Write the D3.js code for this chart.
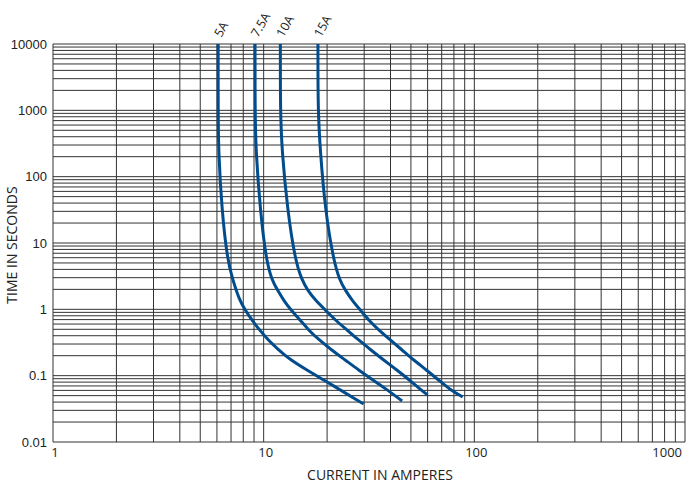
<!DOCTYPE html>
<html>
  <head>
    <meta charset="utf-8"/>
    <style>
      body { margin: 0; background: #fff; }
      text { fill: #222; }
    </style>
  </head>
  <body>
    <script src="https://d3js.org/d3.v7.min.js"></script>
    <script type="text/javascript">
      var width = 695, height = 491;
      var margin = {left: 53, right: 10, top: 44, bottom: 49};

      // fuse ratings, and their curves as [current A, time s]
      var ratings = ["5A", "7.5A", "10A", "15A"];
      var curve5A = [[6.08,10000],[6.08,1000],[6.1,250],[6.33,31],[6.73,5.5],[7.14,2.76],[7.67,1.38],
                     [8.17,0.98],[8.79,0.69],[9.55,0.49],[10.5,0.345],[11.8,0.244],[13.2,0.179],
                     [16.0,0.122],[19.3,0.086],[23.1,0.061],[27.7,0.043],[29.8,0.0375]];
      var curve75A = [[9.1,10000],[9.1,1000],[9.18,250],[9.63,31],[10.28,5.5],[10.94,2.76],[11.63,1.95],
                      [12.42,1.38],[13.46,0.98],[14.91,0.69],[16.3,0.49],[18.35,0.345],[21.0,0.244],
                      [24.4,0.172],[28.2,0.122],[33.0,0.086],[38.7,0.061],[45.4,0.0416]];
      var curve10A = [[12.0,10000],[12.0,1000],[12.2,250],[12.98,31],[14.11,5.5],[15.19,2.76],[16.15,1.95],
                      [17.57,1.38],[19.6,0.98],[21.87,0.69],[24.85,0.49],[28.2,0.345],[32.3,0.244],
                      [37.1,0.172],[42.9,0.122],[49.2,0.086],[55.8,0.061],[60.0,0.0512]];
      var curve15A = [[18.1,10000],[18.1,1000],[18.55,250],[19.6,31],[21.46,5.5],[22.92,2.76],[24.4,1.95],
                      [26.24,1.38],[28.73,0.98],[31.47,0.69],[35.1,0.49],[39.9,0.345],[45.4,0.244],
                      [51.5,0.172],[59.2,0.122],[67.7,0.086],[77.0,0.061],[88.0,0.0478]];
      var curves = [curve5A, curve75A, curve10A, curve15A];

      var xTickLabels = [1, 10, 100, 1000];
      var yTickLabels = [0.01, 0.1, 1, 10, 100, 1000, 10000];

      var svg = d3.select("body")
                  .append("svg")
                  .attr("width", width)
                  .attr("height", height);

      var x = d3.scaleLog().domain([1, 1000]).range([margin.left, width - margin.right]);
      var y = d3.scaleLog().domain([0.01, 10000]).range([height - margin.bottom, margin.top]);

      // grid
      var grid = svg.append("g").attr("stroke", "#333").attr("stroke-width", 1);
      grid.selectAll("line.v").data(x.ticks()).enter().append("line")
          .attr("x1", function(d) { return x(d); }).attr("x2", function(d) { return x(d); })
          .attr("y1", y(10000)).attr("y2", y(0.01));
      grid.selectAll("line.h").data(y.ticks()).enter().append("line")
          .attr("y1", function(d) { return y(d); }).attr("y2", function(d) { return y(d); })
          .attr("x1", x(1)).attr("x2", x(1000));

      // tick labels
      svg.selectAll("text.yl").data(yTickLabels).enter().append("text")
         .attr("x", margin.left - 6).attr("y", function(d) { return y(d); })
         .attr("dy", "0.35em").attr("text-anchor", "end")
         .style("font", "13px 'Liberation Sans', Arial, sans-serif")
         .text(function(d) { return d; });
      svg.selectAll("text.xl").data(xTickLabels).enter().append("text")
         .attr("x", function(d, i) { return i == xTickLabels.length - 1 ? x(d) - 3 : x(d) + 2; })
         .attr("y", y(0.01) + 15)
         .attr("text-anchor", function(d, i) { return i == xTickLabels.length - 1 ? "end" : "middle"; })
         .style("font", "13px 'Open Sans', sans-serif")
         .text(function(d) { return d; });

      // axis titles
      svg.append("text")
         .attr("x", 380).attr("y", 480).attr("text-anchor", "middle")
         .style("font", "14px 'Open Sans', sans-serif")
         .text("CURRENT IN AMPERES");
      svg.append("text")
         .attr("transform", "translate(17,245) rotate(-90)").attr("text-anchor", "middle")
         .style("font", "14px 'Open Sans', sans-serif")
         .text("TIME IN SECONDS");

      // curves
      var line = d3.line()
                   .x(function(d) { return x(d[0]); })
                   .y(function(d) { return y(d[1]); })
                   .curve(d3.curveBasis);
      svg.selectAll("path.curve").data(curves).enter().append("path")
         .attr("d", line)
         .attr("fill", "none")
         .attr("stroke", "#004c8c")
         .attr("stroke-width", 3);

      // rating labels
      svg.selectAll("text.rating").data(ratings).enter().append("text")
         .attr("transform", function(d, i) {
           return "translate(" + (x(curves[i][0][0]) + 3) + "," + (y(10000) - 6) + ") rotate(-60)";
         })
         .style("font", "12.5px 'Open Sans', sans-serif")
         .text(function(d) { return d; });
    </script>
  </body>
</html>
